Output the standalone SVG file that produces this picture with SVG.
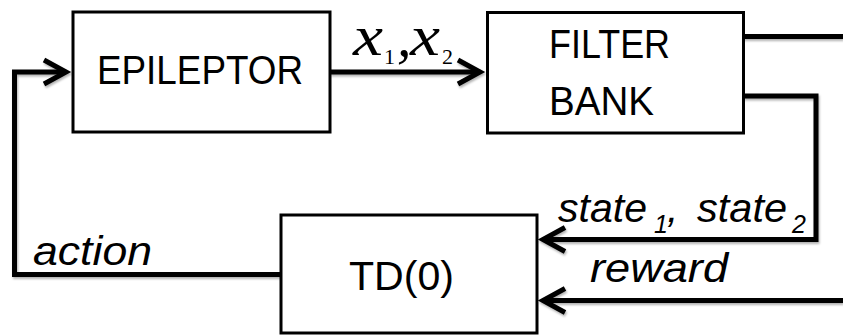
<svg xmlns="http://www.w3.org/2000/svg" width="843" height="335" viewBox="0 0 843 335">
  <style>
    .box { fill: #ffffff; stroke: #000000; stroke-width: 3; }
    .lbl { font-family: "Liberation Sans", Arial, sans-serif; font-size: 40px; fill: #000000; }
    .it { font-family: "Liberation Sans", Arial, sans-serif; font-size: 41px; font-style: italic; fill: #000000; }
    .sub { font-family: "Liberation Sans", Arial, sans-serif; font-size: 25px; font-style: italic; fill: #000000; }
    .mx { font-family: "Liberation Serif", "Times New Roman", serif; font-size: 58px; font-style: italic; fill: #000000; }
    .mn { font-family: "Liberation Serif", "Times New Roman", serif; font-size: 22px; fill: #000000; }
    .wire { fill: none; stroke: #000000; stroke-width: 5; stroke-linejoin: miter; }
  </style>
  <defs>
    <marker id="arr" markerUnits="userSpaceOnUse" viewBox="-35 -20 45 40" markerWidth="45" markerHeight="40" refX="0" refY="0" orient="auto" overflow="visible">
      <path d="M-22,-12 L0,0 L-22,12" fill="none" stroke="#000000" stroke-width="5" stroke-linejoin="miter"/>
    </marker>
    <filter id="sh" x="-5%" y="-20%" width="110%" height="140%">
      <feDropShadow dx="1" dy="2" stdDeviation="1.2" flood-color="#000000" flood-opacity="0.3"/>
    </filter>
  </defs>

  <g id="connectors" filter="url(#sh)">
    <path class="wire" d="M281,274.5 L14.5,274.5 L14.5,72 L66,72" marker-end="url(#arr)"/>
    <path class="wire" d="M330,72 L480,72" marker-end="url(#arr)"/>
    <path class="wire" d="M743,36.5 L843,36.5"/>
    <path class="wire" d="M743,96 L816,96 L816,239.5 L543,239.5" marker-end="url(#arr)"/>
    <path class="wire" d="M843,300.5 L543,300.5" marker-end="url(#arr)"/>
  </g>

  <g id="epileptor">
    <rect class="box" x="73" y="12" width="257" height="120"/>
    <text class="lbl" x="97" y="84" textLength="206" lengthAdjust="spacingAndGlyphs">EPILEPTOR</text>
  </g>

  <g id="filterbank">
    <rect class="box" x="487.5" y="12.5" width="256" height="120.5"/>
    <text class="lbl" x="549" y="58" textLength="121" lengthAdjust="spacingAndGlyphs">FILTER</text>
    <text class="lbl" x="549" y="115" textLength="105" lengthAdjust="spacingAndGlyphs">BANK</text>
  </g>

  <g id="td0">
    <rect class="box" x="281" y="215" width="256" height="118"/>
    <text class="lbl" x="349" y="290" textLength="105" lengthAdjust="spacingAndGlyphs">TD(0)</text>
  </g>

  <g id="labels">
    <text class="mx" x="353" y="55" textLength="30" lengthAdjust="spacingAndGlyphs">x</text>
    <text class="mn" x="384" y="64">1</text>
    <text class="mx" x="397" y="56" font-style="normal">,</text>
    <text class="mx" x="410" y="55" textLength="30" lengthAdjust="spacingAndGlyphs">x</text>
    <text class="mn" x="442" y="64">2</text>

    <text class="it" x="558" y="222" textLength="89" lengthAdjust="spacingAndGlyphs">state</text>
    <text class="sub" x="654" y="233">1</text>
    <text class="it" x="667" y="222">,</text>
    <text class="it" x="697" y="222" textLength="90" lengthAdjust="spacingAndGlyphs">state</text>
    <text class="sub" x="792" y="233">2</text>

    <text class="it" x="590" y="282" textLength="138" lengthAdjust="spacingAndGlyphs">reward</text>
    <text class="it" x="33" y="265" textLength="119" lengthAdjust="spacingAndGlyphs">action</text>
  </g>
</svg>
